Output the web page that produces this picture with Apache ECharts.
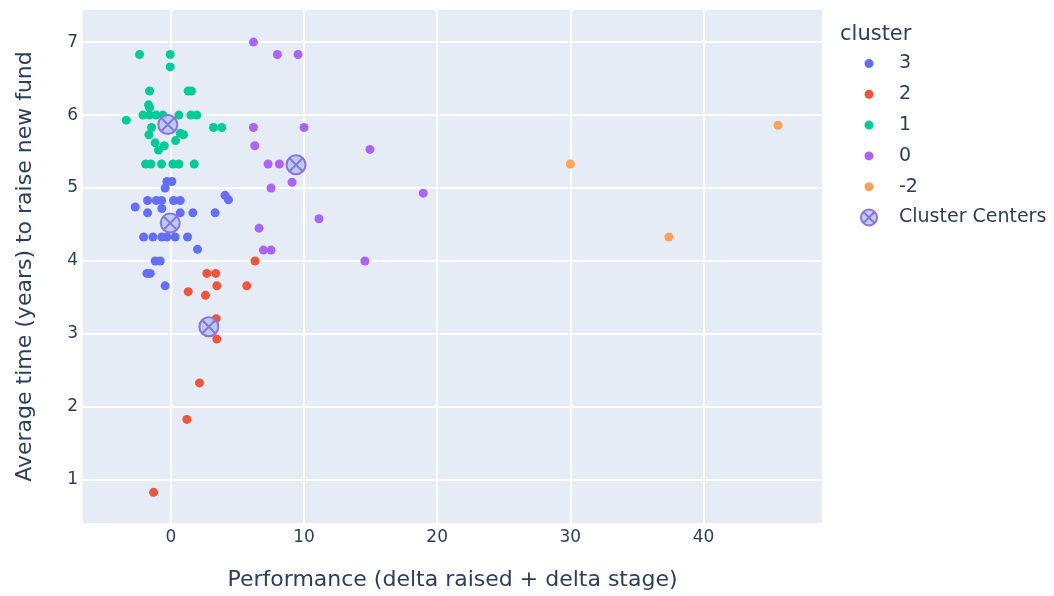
<!DOCTYPE html>
<html>
<head>
<meta charset="utf-8">
<script src="https://cdn.jsdelivr.net/npm/echarts@6/dist/echarts.min.js"></script>
<style>
  html, body { margin: 0; padding: 0; background: #fff; }
  #chart { width: 1054px; height: 596px; }
</style>
</head>
<body>
<div id="chart"></div>
<script>
// 各簇数据 [performance, years]
var cluster3 = [
  [-0.3, 5.09], [0.07, 5.09], [-0.43, 5.0],
  [-1.75, 4.83], [-1.1, 4.83], [-0.7, 4.83], [0.2, 4.83], [0.7, 4.83],
  [-2.68, 4.74], [-0.68, 4.72], [4.07, 4.9], [4.32, 4.84],
  [-1.75, 4.66], [0.7, 4.66], [1.65, 4.66], [3.32, 4.66],
  [-2.05, 4.33], [-1.35, 4.33], [-0.68, 4.33], [-0.3, 4.33], [0.32, 4.33], [1.25, 4.33],
  [2.0, 4.16], [-1.18, 4.0], [-0.8, 4.0], [-1.8, 3.83], [-1.55, 3.83], [-0.43, 3.66]
];
var cluster2 = [
  [6.32, 4.0], [2.7, 3.83], [3.37, 3.83], [3.45, 3.66], [5.7, 3.66],
  [1.3, 3.58], [2.6, 3.53], [3.4, 3.21], [3.45, 2.93],
  [2.15, 2.33], [1.2, 1.83], [-1.3, 0.83]
];
var cluster1 = [
  [-2.35, 6.83], [-0.05, 6.83], [-0.05, 6.66],
  [-1.6, 6.33], [1.3, 6.33], [1.55, 6.33],
  [-1.68, 6.14], [-1.6, 6.1],
  [-2.1, 6.0], [-1.6, 6.0], [-1.1, 6.0], [-0.6, 6.0], [0.6, 6.0], [1.5, 6.0], [1.95, 6.0],
  [-3.35, 5.93], [-1.45, 5.83], [3.2, 5.83], [3.82, 5.83],
  [-1.65, 5.73], [0.7, 5.75], [0.95, 5.73], [0.35, 5.65],
  [-1.18, 5.62], [-0.5, 5.58], [-0.93, 5.52],
  [-1.9, 5.33], [-1.5, 5.33], [-0.7, 5.33], [0.15, 5.33], [0.6, 5.33], [1.75, 5.33]
];
var cluster0 = [
  [6.2, 7.0], [8.0, 6.83], [9.55, 6.83], [6.2, 5.83], [10.0, 5.83],
  [6.3, 5.58], [14.95, 5.53], [7.3, 5.33], [8.15, 5.33], [9.1, 5.08],
  [7.52, 5.0], [18.95, 4.93], [11.12, 4.58], [6.62, 4.45],
  [6.95, 4.15], [7.52, 4.15], [14.57, 4.0]
];
var clusterNeg2 = [[30.0, 5.33], [45.6, 5.86], [37.4, 4.33]];
var centers = [[-0.23, 5.87], [-0.05, 4.52], [2.85, 3.1], [9.4, 5.32]];

var xTicks = [0, 10, 20, 30, 40];
var yTicks = [1, 2, 3, 4, 5, 6, 7];
var xRange = [-6.6, 48.9];
var yRange = [0.41, 7.44];

var textColor = '#2a3f5f';
var fontFam = '"DejaVu Sans", Verdana, sans-serif';
// 圆圈带叉的符号
var circleX = 'path://M0,-9A9,9 0 1,1 0,9A9,9 0 1,1 0,-9Z M-6.4,-6.4L6.4,6.4 M6.4,-6.4L-6.4,6.4';
var dotIcon = 'path://M-16,-16Z M16,16Z M0,-9A9,9 0 1,1 0,9A9,9 0 1,1 0,-9Z';

function dotSeries(name, data, color){
  return {
    name: name,
    type: 'scatter',
    data: data,
    symbol: 'circle',
    symbolSize: 9,
    itemStyle: { color: color, opacity: 1 },
    emphasis: { disabled: true }
  };
}

var option = {
  animation: false,
  backgroundColor: '#fff',
  title: {
    text: 'cluster',
    left: 835,
    top: 19,
    textStyle: { color: textColor, fontSize: 21, fontWeight: 'normal', fontFamily: fontFam }
  },
  legend: {
    orient: 'vertical',
    left: 855,
    top: 49,
    itemWidth: 50,
    itemHeight: 16,
    itemGap: 11.8,
    textStyle: { color: textColor, fontSize: 19, fontFamily: fontFam },
    data: [
      { name: '3', icon: dotIcon },
      { name: '2', icon: dotIcon },
      { name: '1', icon: dotIcon },
      { name: '0', icon: dotIcon },
      { name: '-2', icon: dotIcon },
      { name: 'Cluster Centers', icon: circleX }
    ]
  },
  grid: {
    left: 83,
    top: 10,
    right: 232,
    bottom: 73,
    show: true,
    backgroundColor: '#E5ECF6',
    borderWidth: 0
  },
  xAxis: {
    type: 'value',
    min: xRange[0],
    max: xRange[1],
    name: 'Performance (delta raised + delta stage)',
    nameLocation: 'middle',
    nameGap: 46,
    nameTextStyle: { color: textColor, fontSize: 22, fontFamily: fontFam },
    axisLine: { show: false },
    axisTick: { show: false, customValues: xTicks },
    axisLabel: { customValues: xTicks, color: textColor, fontSize: 17, fontFamily: fontFam, margin: 6 },
    splitLine: { show: true, lineStyle: { color: '#fff', width: 2 } }
  },
  yAxis: {
    type: 'value',
    min: yRange[0],
    max: yRange[1],
    name: 'Average time (years) to raise new fund',
    nameLocation: 'middle',
    nameGap: 47,
    nameTextStyle: { color: textColor, fontSize: 22, fontFamily: fontFam },
    axisLine: { show: false },
    axisTick: { show: false, customValues: yTicks },
    axisLabel: { customValues: yTicks, color: textColor, fontSize: 17, fontFamily: fontFam, margin: 5 },
    splitLine: { show: true, lineStyle: { color: '#fff', width: 2 } }
  },
  series: [
    dotSeries('3', cluster3, '#636efa'),
    dotSeries('2', cluster2, '#EF553B'),
    dotSeries('1', cluster1, '#00cc96'),
    dotSeries('0', cluster0, '#ab63fa'),
    dotSeries('-2', clusterNeg2, '#FFA15A'),
    {
      name: 'Cluster Centers',
      type: 'scatter',
      data: centers,
      symbol: circleX,
      symbolSize: 19,
      itemStyle: { color: 'rgba(165,200,240,0.8)', borderColor: '#9370DB', borderWidth: 2, opacity: 1 },
      emphasis: { disabled: true },
      z: 5
    }
  ]
};

var chart = echarts.init(document.getElementById('chart'));
chart.setOption(option);
</script>
</body>
</html>
